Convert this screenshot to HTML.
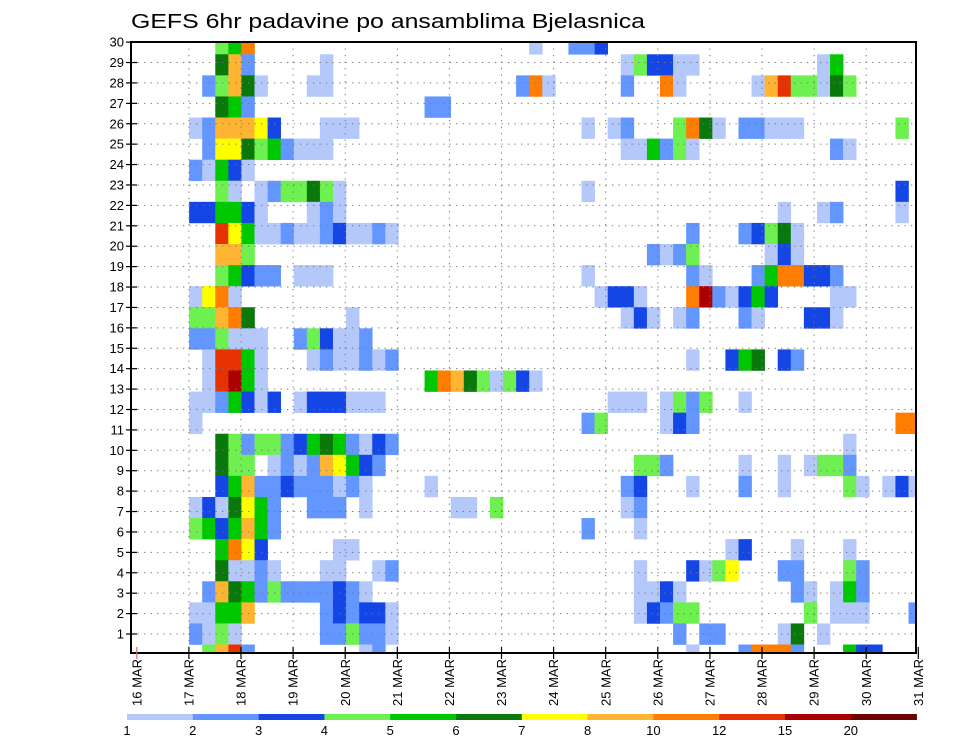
<!DOCTYPE html>
<html><head><meta charset="utf-8">
<style>
html,body{margin:0;padding:0;background:#fff;}
svg{display:block;font-family:"Liberation Sans",sans-serif;}
</style></head>
<body>
<svg id="chart" width="960" height="742" viewBox="0 0 960 742" xmlns="http://www.w3.org/2000/svg">
<defs><clipPath id="plotclip"><rect x="131" y="42" width="785" height="611"/></clipPath></defs>
<text x="131" y="28" font-size="20" textLength="514" lengthAdjust="spacingAndGlyphs" fill="#000">GEFS 6hr padavine po ansamblima Bjelasnica</text>
<g id="cells" clip-path="url(#plotclip)"></g>
<g id="grid"></g>
<rect x="131" y="42" width="785" height="611" fill="none" stroke="#000" stroke-width="2"/>
<g id="yaxis"></g>
<g id="xaxis"></g>
<g id="legend"></g>
</svg>
<script>
// Bin thresholds (mm) and colours
const levelLabels = [1,2,3,4,5,6,7,8,10,12,15,20];
const levelColors = ["#b4c8fa","#6496ff","#1446e6","#6ef050","#00c800","#0a780a","#ffff00","#ffb432","#ff7d00","#e63200","#aa0000","#6e0000"];
// Representative precipitation (mm) per code 1..c
const codeValues = {"1":1.5,"2":2.5,"3":3.5,"4":4.5,"5":5.5,"6":6.5,"7":7.5,"8":9,"9":11,"a":13.5,"b":17,"c":22};
const dayLabels = ["16 MAR","17 MAR","18 MAR","19 MAR","20 MAR","21 MAR","22 MAR","23 MAR","24 MAR","25 MAR","26 MAR","27 MAR","28 MAR","29 MAR","30 MAR","31 MAR"];
const memberTicks = [1,2,3,4,5,6,7,8,9,10,11,12,13,14,15,16,17,18,19,20,21,22,23,24,25,26,27,28,29,30];
// Ensemble rows (top to bottom), each "step:code" (6-hourly step from 16 MAR 00Z)
const ensembleRows = [
"6:4 7:5 8:9 30:1 33:2 34:2 35:3",
"6:6 7:8 8:2 14:1 37:1 38:4 39:3 40:3 41:1 42:1 52:1 53:5",
"5:2 6:4 7:8 8:6 9:1 13:1 14:1 29:2 30:9 31:1 37:2 40:9 41:1 47:1 48:8 49:a 50:4 51:4 52:1 53:6 54:4",
"6:6 7:5 8:2 22:2 23:2",
"4:1 5:2 6:8 7:8 8:8 9:7 10:3 14:1 15:1 16:1 34:1 36:1 37:2 41:4 42:9 43:6 44:1 46:2 47:2 48:1 49:1 50:1 58:4",
"5:2 6:7 7:7 8:6 9:4 10:5 11:2 12:1 13:1 14:1 37:1 38:1 39:5 40:2 41:4 42:1 53:2 54:1",
"4:2 5:1 6:5 7:3 8:1",
"6:4 7:1 9:1 10:2 11:4 12:4 13:6 14:4 15:1 34:1 58:3",
"4:3 5:3 6:5 7:5 8:3 9:1 13:1 14:2 15:1 49:1 52:1 53:2 58:1",
"6:a 7:7 8:5 9:1 10:1 11:2 12:1 13:1 14:2 15:3 16:1 17:1 18:2 19:1 42:2 46:2 47:3 48:4 49:6 50:1",
"6:8 7:8 8:4 39:2 40:1 41:2 42:4 48:1 49:3 50:1",
"6:4 7:5 8:3 9:2 10:2 12:1 13:1 14:1 34:1 42:2 43:1 47:2 48:5 49:9 50:9 51:3 52:3 53:2",
"4:1 5:7 6:9 7:1 35:1 36:3 37:3 38:1 42:9 43:b 44:2 45:1 46:3 47:5 48:3 53:1 54:1",
"4:4 5:4 6:8 7:9 8:6 16:1 37:1 38:3 39:1 41:1 42:2 46:2 47:1 51:3 52:3 53:1",
"4:2 5:2 6:4 7:1 8:1 9:1 12:2 13:4 14:3 15:1 16:1 17:2",
"5:1 6:a 7:a 8:5 9:1 13:1 14:2 15:1 16:1 17:2 18:1 19:2 42:1 45:3 46:5 47:6 49:3 50:2",
"5:1 6:a 7:b 8:5 9:1 22:5 23:9 24:8 25:6 26:4 27:1 28:4 29:3 30:1",
"4:1 5:1 6:2 7:5 8:3 9:1 10:3 12:1 13:3 14:3 15:3 16:1 17:1 18:1 36:1 37:1 38:1 40:1 41:4 42:2 43:4 46:1",
"4:1 34:2 35:4 40:1 41:3 42:2 58:9 59:9",
"6:6 7:4 8:2 9:4 10:4 11:2 12:3 13:5 14:6 15:5 16:2 17:1 18:3 19:2 54:1",
"6:6 7:4 8:4 10:1 11:2 12:1 13:2 14:8 15:7 16:5 17:3 18:2 38:4 39:4 40:2 46:1 49:1 51:1 52:4 53:4 54:2",
"6:3 7:5 8:8 9:2 10:2 11:3 12:2 13:2 14:2 15:1 16:2 17:1 22:1 37:2 38:3 42:1 46:2 49:1 54:4 55:1 57:1 58:3 59:1",
"4:1 5:3 6:1 7:6 8:7 9:5 10:2 13:2 14:2 15:2 17:1 24:1 25:1 27:4 37:1 38:2",
"4:4 5:5 6:3 7:5 8:8 9:5 10:2 34:2 38:1",
"6:5 7:9 8:7 9:3 15:1 16:1 45:1 46:3 50:1 54:1",
"6:6 7:1 8:1 9:2 10:1 14:1 15:1 18:1 19:2 38:1 42:3 43:1 44:4 45:7 49:2 50:2 54:4 55:2",
"5:2 6:8 7:6 8:5 9:2 10:4 11:2 12:2 13:2 14:2 15:3 16:2 17:1 38:1 39:1 40:3 41:1 50:2 51:1 53:1 54:5 55:2",
"4:1 5:1 6:5 7:5 8:8 14:2 15:3 16:2 17:3 18:3 19:1 38:1 39:3 40:2 41:4 42:4 51:4 53:1 54:1 55:1 59:2",
"4:2 5:1 6:4 7:1 14:2 15:2 16:4 17:2 18:2 19:1 41:2 43:2 44:2 49:1 50:6 52:1",
"5:4 6:8 7:a 8:2 17:1 18:2 42:1 46:2 47:9 48:9 49:9 50:2 54:5 55:3 56:3"
];

const NS = "http://www.w3.org/2000/svg";
function mk(tag, attrs, parent){ const e=document.createElementNS(NS,tag); for(const k in attrs) e.setAttribute(k,attrs[k]); parent.appendChild(e); return e; }
// Scales
const X0 = 136.8, STEP = 13.08;            // 6h step width
const xStep = s => X0 + s*STEP;
const xDay = d => X0 + d*52.1;
const yLine = n => 634 - (n-1)*20.41;       // member tick lines
const ROW0 = 33.2, ROWH = 21.08;
const yRow = i => ROW0 + i*ROWH;
function colorFor(v){ let idx=-1; for(let k=0;k<levelLabels.length;k++){ if(v>=levelLabels[k]) idx=k; } return idx<0?null:levelColors[idx]; }

// Cells
const cg = document.getElementById('cells');
ensembleRows.forEach((row,i)=>{
  row.split(' ').forEach(tok=>{
    const [s,code] = tok.split(':');
    const v = codeValues[code];
    const col = colorFor(v); if(!col) return;
    const r = mk('rect',{x:xStep(+s).toFixed(2),y:yRow(i).toFixed(2),width:(STEP+0.3).toFixed(2),height:(ROWH+0.3).toFixed(2),fill:col},cg);
    
    
  });
});

// Grid
const gg = document.getElementById('grid');
memberTicks.forEach(n=>{
  if(n>=30) return;
  const l = mk('line',{x1:131,x2:916,y1:yLine(n),y2:yLine(n),stroke:'#777','stroke-width':1,'stroke-dasharray':'1.3 5.2'},gg);
  
  
});
dayLabels.forEach((d,k)=>{
  if(k===0||k===dayLabels.length-1) return;
  const l = mk('line',{x1:xDay(k),x2:xDay(k),y1:42,y2:653,stroke:'#777','stroke-width':1,'stroke-dasharray':'1.3 5.2'},gg);
  
  
});

// Y axis
const ya = document.getElementById('yaxis');
memberTicks.forEach(n=>{
  const t = mk('line',{x1:126,x2:137,y1:yLine(n),y2:yLine(n),stroke:'#000','stroke-width':1.2},ya);
  
  
  const tx = mk('text',{x:124,y:yLine(n)+4.5,'font-size':13,'text-anchor':'end',fill:'#000'},ya);
  tx.textContent = n;
  
  
});

// X axis
const xa = document.getElementById('xaxis');
dayLabels.forEach((d,k)=>{
  const x = xDay(k);
  const t = mk('line',{x1:x,x2:x,y1:647,y2:659,stroke:k===0?'#d66':'#000','stroke-width':1.2},xa);
  
  
  const tx = mk('text',{x:0,y:0,'font-size':13,'text-anchor':'end',fill:'#000',transform:`translate(${(x+4.6).toFixed(1)},659) rotate(-90)`},xa);
  tx.textContent = d;
  
  
});

// Legend
const lg = document.getElementById('legend');
const LX = 127, LW = 65.8;
levelColors.forEach((c,k)=>{
  const r = mk('rect',{x:LX+k*LW,y:714,width:LW+0.3,height:6,fill:c},lg);
  
  
  const tx = mk('text',{x:LX+k*LW,y:735,'font-size':13,'text-anchor':'middle',fill:'#000'},lg);
  tx.textContent = levelLabels[k];
  
  
});
</script>
</body></html>
